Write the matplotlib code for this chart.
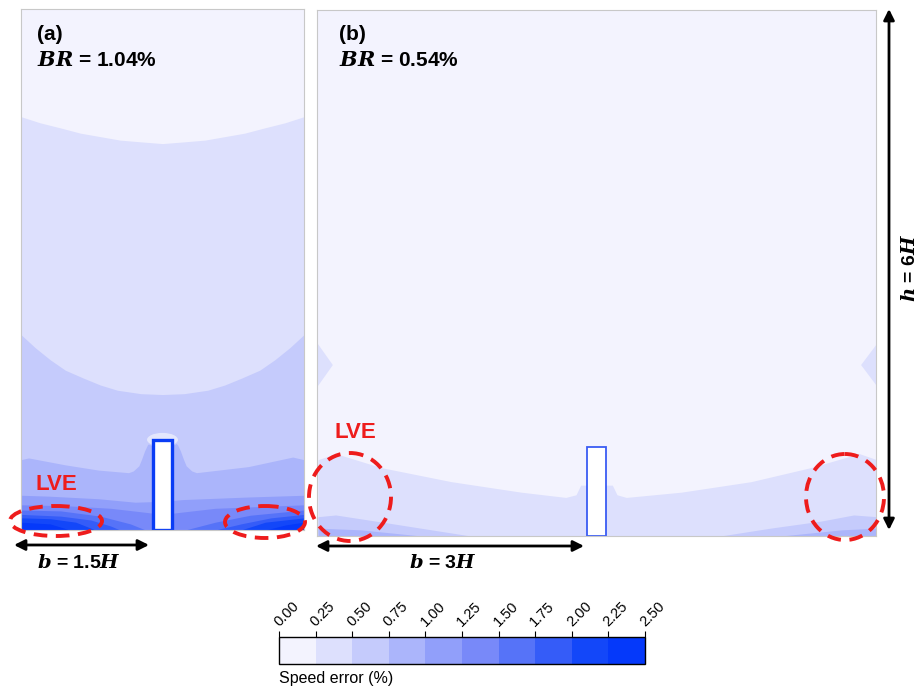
import matplotlib
matplotlib.use("Agg")
import matplotlib.pyplot as plt
from matplotlib.colors import ListedColormap, BoundaryNorm
from matplotlib.patches import Rectangle, Ellipse
import matplotlib.colorbar as mcolorbar

plt.rcParams['font.family'] = ['Liberation Sans', 'DejaVu Sans']
plt.rcParams['mathtext.fontset'] = 'custom'
plt.rcParams['mathtext.it'] = 'DejaVu Serif:italic:bold'
plt.rcParams['mathtext.rm'] = 'Liberation Sans:bold'

# speed error levels (%) and band colours
levels = [0.00, 0.25, 0.50, 0.75, 1.00, 1.25, 1.50, 1.75, 2.00, 2.25, 2.50]
band_colors = ['#f3f3fe', '#dde0fd', '#c5cbfc', '#abb5fb', '#919ffa',
               '#7889f9', '#5673f8', '#355cf8', '#1347f9', '#0539fa']

# ---- panel (a): BR = 1.04 %, domain 3H x 6H, band upper edges (x/H, y/H)
a_l1_x = [-1.50, -1.30, -1.08, -0.87, -0.66, -0.45, -0.23, 0.00,
          0.23, 0.45, 0.66, 0.87, 1.08, 1.30, 1.50]
a_l1_y = [4.76, 4.69, 4.63, 4.57, 4.53, 4.49, 4.47, 4.45,
          4.47, 4.49, 4.53, 4.57, 4.63, 4.69, 4.76]
a_l2_x = [-1.50, -1.35, -1.19, -1.03, -0.84, -0.66, -0.48, -0.23, 0.00,
          0.23, 0.48, 0.66, 0.84, 1.03, 1.19, 1.35, 1.50]
a_l2_y = [2.25, 2.10, 1.96, 1.84, 1.75, 1.67, 1.61, 1.57, 1.56,
          1.57, 1.61, 1.67, 1.75, 1.84, 1.96, 2.10, 2.25]
a_l3_x = [-1.50, -1.42, -1.03, -0.68, -0.36, -0.31, -0.25, -0.22, -0.19,
          -0.16, -0.13, 0.13, 0.16, 0.19, 0.22, 0.25, 0.31, 0.36, 0.91,
          1.38, 1.50]
a_l3_y = [0.81, 0.83, 0.75, 0.69, 0.66, 0.68, 0.74, 0.82, 0.91,
          0.98, 1.01, 1.01, 0.98, 0.91, 0.82, 0.74, 0.68, 0.66, 0.73,
          0.84, 0.81]
a_l4_x = [-1.50, -1.21, -0.68, -0.29, 0.00, 0.21, 0.91, 1.50]
a_l4_y = [0.40, 0.39, 0.36, 0.32, 0.33, 0.35, 0.38, 0.40]
a_l5_x = [-1.50, -1.03, -0.55, -0.23, 0.00, 0.24, 0.56, 1.50]
a_l5_y = [0.29, 0.28, 0.25, 0.21, 0.18, 0.21, 0.25, 0.29]
a_l6_x = [-1.50, -1.08, -0.66, -0.34, -0.18, 0.24, 0.56, 0.93, 1.50]
a_l6_y = [0.23, 0.22, 0.16, 0.07, 0.00, 0.00, 0.09, 0.17, 0.23]
a_l7_x = [-1.50, -1.08, -0.76, -0.55, -0.45, 0.56, 0.83, 1.15, 1.50]
a_l7_y = [0.18, 0.16, 0.115, 0.046, 0.00, 0.00, 0.07, 0.14, 0.18]
a_l8_x = [-1.50, -1.19, -0.92, -0.71, 0.83, 1.09, 1.50]
a_l8_y = [0.14, 0.13, 0.09, 0.00, 0.00, 0.09, 0.14]
a_l9_x = [-1.50, -1.19, -0.98, 1.09, 1.31, 1.50]
a_l9_y = [0.09, 0.07, 0.00, 0.00, 0.06, 0.09]
a_bands = [(a_l1_x, a_l1_y), (a_l2_x, a_l2_y), (a_l3_x, a_l3_y), (a_l4_x, a_l4_y),
           (a_l5_x, a_l5_y), (a_l6_x, a_l6_y), (a_l7_x, a_l7_y), (a_l8_x, a_l8_y),
           (a_l9_x, a_l9_y)]

# ---- panel (b): BR = 0.54 %, domain 6H x 6H
b_l1_x = [-2.99, -2.80, -2.31, -1.56, -0.81, -0.33, -0.22, -0.17, 0.00,
          0.17, 0.22, 0.32, 0.91, 1.66, 2.30, 2.82, 3.01]
b_l1_y = [0.87, 0.94, 0.78, 0.62, 0.50, 0.44, 0.47, 0.58, 0.58,
          0.58, 0.47, 0.44, 0.50, 0.62, 0.78, 0.94, 0.87]
b_l2_x = [-2.99, -2.80, -2.31, -1.77, -1.35, 1.33, 1.87, 2.41, 2.76, 3.01]
b_l2_y = [0.22, 0.24, 0.16, 0.07, 0.00, 0.00, 0.09, 0.17, 0.24, 0.22]
b_l3_x = [-2.99, -2.53, -1.88, 1.98, 2.63, 3.01]
b_l3_y = [0.09, 0.07, 0.00, 0.00, 0.07, 0.09]
b_bands = [(b_l1_x, b_l1_y), (b_l2_x, b_l2_y), (b_l3_x, b_l3_y)]
b_notch_left_x = [-2.99, -2.83, -2.99]
b_notch_right_x = [3.01, 2.84, 3.01]
b_notch_y = [2.19, 1.95, 1.71]

building_w = 0.21
a_building_h = 1.04
b_building_h = 1.01

fig = plt.figure(figsize=(9.21, 6.86), dpi=100)

ax_a = fig.add_axes([21 / 921, 156 / 686, 283 / 921, 521 / 686])
ax_b = fig.add_axes([317 / 921, 150 / 686, 559 / 921, 526 / 686])


def draw_panel(ax, bands, xlim):
    ax.set_facecolor(band_colors[0])
    for k, (xs, ys) in enumerate(bands):
        ax.fill_between(xs, 0, ys, color=band_colors[k + 1], lw=0)
    ax.set_xlim(*xlim)
    ax.set_ylim(0, 6)
    ax.set_xticks([])
    ax.set_yticks([])
    for sp in ax.spines.values():
        sp.set_color('#c8c8c8')
        sp.set_linewidth(0.8)


draw_panel(ax_a, a_bands, (-1.5, 1.5))
ax_a.add_patch(Ellipse((0, a_building_h), 0.34, 0.17, facecolor='#e4e7fd',
                       edgecolor='#c5cbfc', lw=0.8))
ax_a.add_patch(Rectangle((-building_w / 2, 0), building_w, a_building_h,
                         facecolor='white', edgecolor='#0a3cf5', lw=2.4))

draw_panel(ax_b, b_bands, (-3, 3))
ax_b.fill(b_notch_left_x, b_notch_y, color=band_colors[1], lw=0)
ax_b.fill(b_notch_right_x, b_notch_y, color=band_colors[1], lw=0)
ax_b.add_patch(Rectangle((-building_w / 2, 0), building_w, b_building_h,
                         facecolor='white', edgecolor='#3a5cf3', lw=1.3))

# colour bar
cax = fig.add_axes([279 / 921, 22 / 686, 366 / 921, 27 / 686])
cmap = ListedColormap(band_colors)
norm = BoundaryNorm(levels, cmap.N)
cb = mcolorbar.ColorbarBase(cax, cmap=cmap, norm=norm, orientation='horizontal',
                            ticks=levels)
cb.outline.set_linewidth(1.0)
cax.xaxis.set_ticks_position('top')
cax.tick_params(axis='x', length=4, width=0.8, pad=3)
cax.set_xticklabels(['%.2f' % v for v in levels], rotation=45, ha='left',
                    va='baseline', rotation_mode='anchor', fontsize=10.5)

# overlay in pixel coordinates for annotations
ov = fig.add_axes([0, 0, 1, 1])
ov.set_xlim(0, 921)
ov.set_ylim(686, 0)
ov.axis('off')
ov.patch.set_alpha(0)

ov.text(37, 34, '(a)', fontsize=15, fontweight='bold', va='center')
ov.text(37, 60, r'$BR$ = 1.04%', fontsize=15, fontweight='bold', va='center')
ov.text(339, 34, '(b)', fontsize=15, fontweight='bold', va='center')
ov.text(339, 60, r'$BR$ = 0.54%', fontsize=15, fontweight='bold', va='center')

red = '#ee1c1c'
ov.text(35, 484, 'LVE', color=red, fontsize=16, fontweight='bold', va='center')
ov.text(334, 432, 'LVE', color=red, fontsize=16, fontweight='bold', va='center')
for cx, cy, w, h in [(56, 521, 92, 30), (265, 522, 80, 32),
                     (350, 497, 82, 88), (845, 497, 78, 86)]:
    ov.add_patch(Ellipse((cx, cy), w, h, fill=False, edgecolor=red, lw=2.8,
                         linestyle=(0, (3.5, 2.2))))

arrow = dict(arrowstyle='<|-|>', color='black', lw=2, mutation_scale=16,
             shrinkA=0, shrinkB=0)
ov.annotate('', xy=(14, 545), xytext=(149, 545), arrowprops=arrow)
ov.text(79, 563, r'$b$ = 1.5$H$', fontsize=14, fontweight='bold',
        ha='center', va='center')
ov.annotate('', xy=(316, 546), xytext=(584, 546), arrowprops=arrow)
ov.text(443, 563, r'$b$ = 3$H$', fontsize=14, fontweight='bold',
        ha='center', va='center')
ov.annotate('', xy=(889, 9), xytext=(889, 530), arrowprops=arrow)
ov.text(910, 268, r'$h$ = 6$H$', fontsize=14, fontweight='bold',
        ha='center', va='center', rotation=90)

ov.text(279, 678, 'Speed error (%)', fontsize=11.5, va='center')

fig.savefig('out.png', dpi=100)
